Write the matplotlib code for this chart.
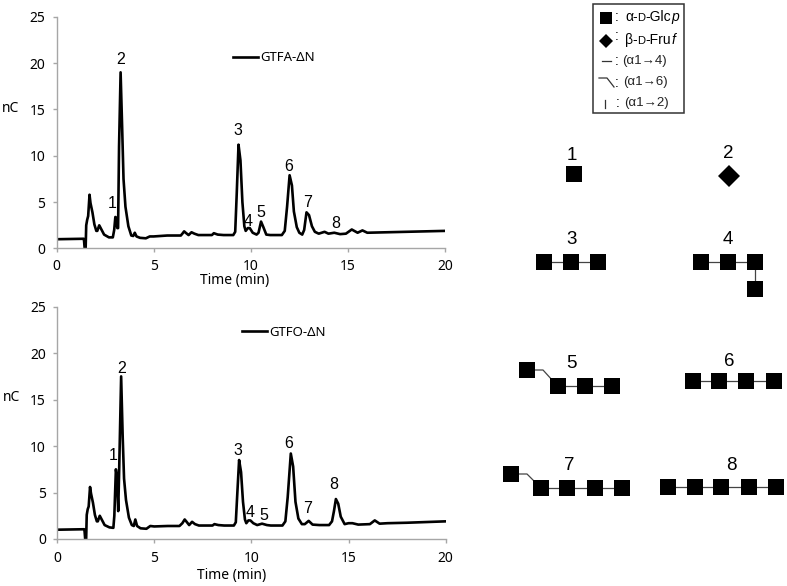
import matplotlib
matplotlib.use("Agg")
import matplotlib.pyplot as plt

plt.rcParams["font.family"] = ["Noto Sans", "DejaVu Sans"]

# chromatogram traces
time_a = [0, 1.4, 1.42, 1.45, 1.5, 1.53, 1.58, 1.63, 1.7, 1.75, 1.85, 1.95, 2.05, 2.1, 2.2, 2.3, 2.45, 2.7, 2.9,
          2.97, 3.03, 3.08, 3.13, 3.17, 3.22, 3.3, 3.38, 3.45, 3.55, 3.7, 3.85, 3.95, 4.03, 4.12, 4.3, 4.6, 4.8,
          5.0, 5.7, 6.4, 6.5, 6.57, 6.65, 6.8, 6.95, 7.1, 7.3, 8.0, 8.1, 8.3, 8.6, 9.1, 9.2, 9.28, 9.37, 9.47,
          9.57, 9.67, 9.74, 9.85, 9.95, 10.1, 10.3, 10.4, 10.53, 10.65, 10.8, 11, 11.6, 11.75, 11.87, 12.0, 12.12,
          12.22, 12.37, 12.5, 12.65, 12.75, 12.87, 13, 13.15, 13.3, 13.5, 13.8, 14.0, 14.3, 14.6, 14.9, 15.2, 15.5,
          15.75, 16, 17, 18, 20]
signal_a = [1.0, 1.05, 0.8, 0, 0, 2.5, 3.1, 3.5, 5.8, 4.9, 3.9, 2.6, 1.9, 1.9, 2.5, 2.1, 1.5, 1.2, 1.2,
            2.0, 3.4, 3.3, 2.2, 2.2, 11, 19, 13, 7.5, 4.5, 2.4, 1.4, 1.35, 1.7, 1.3, 1.15, 1.1, 1.3,
            1.3, 1.4, 1.4, 1.65, 1.85, 1.7, 1.45, 1.75, 1.6, 1.45, 1.45, 1.65, 1.5, 1.45, 1.45, 1.8, 6, 11.2, 9.5,
            5, 2.4, 1.9, 2.2, 2.2, 1.7, 1.5, 1.7, 2.9, 2.3, 1.5, 1.45, 1.45, 1.9, 4.5, 7.9, 6.8,
            4, 2.3, 1.7, 1.5, 2.0, 3.9, 3.6, 2.4, 1.8, 1.6, 1.8, 1.6, 1.7, 1.55, 1.6, 2.05, 1.7,
            1.95, 1.7, 1.75, 1.8, 1.9]

time_o = [0, 1.4, 1.42, 1.45, 1.5, 1.53, 1.58, 1.63, 1.7, 1.75, 1.85, 1.95, 2.05, 2.1, 2.2, 2.3, 2.45, 2.7, 2.9,
          2.95, 3.03, 3.08, 3.15, 3.2, 3.3, 3.38, 3.45, 3.55, 3.7, 3.85, 3.95, 4.03, 4.12, 4.3, 4.6, 4.8,
          5.0, 5.7, 6.3, 6.45, 6.57, 6.65, 6.8, 6.95, 7.1, 7.3, 8.0, 8.1, 8.3, 8.6, 9.1, 9.2, 9.28, 9.37, 9.47,
          9.57, 9.67, 9.74, 9.85, 9.95, 10.1, 10.3, 10.55, 10.8, 11, 11.6, 11.75, 11.87, 12.03, 12.15,
          12.27, 12.42, 12.6, 12.75, 12.95, 13.15, 13.5, 14.0, 14.15, 14.25, 14.35, 14.47, 14.6, 14.8, 15.0, 15.2,
          15.5, 16.1, 16.35, 16.6, 17, 18, 20]
signal_o = [1.0, 1.05, 0.8, 0, 0, 2.6, 3.2, 3.5, 5.6, 4.9, 3.9, 2.6, 1.9, 1.9, 2.5, 2.1, 1.5, 1.25, 1.2,
            2.5, 7.5, 6.8, 3.0, 7.5, 17.5, 11, 6.5, 4.2, 2.3, 1.5, 1.4, 2.1, 1.4, 1.15, 1.1, 1.4,
            1.35, 1.4, 1.4, 1.7, 2.1, 1.9, 1.5, 1.85, 1.6, 1.45, 1.45, 1.6, 1.5, 1.45, 1.45, 1.8, 5, 8.5, 7.2,
            4, 2.1, 1.7, 2.0, 2.0, 1.7, 1.5, 1.65, 1.5, 1.45, 1.45, 1.9, 4.5, 9.2, 7.8,
            4, 2.2, 1.6, 1.6, 1.95, 1.55, 1.5, 1.5, 1.9, 3.0, 4.3, 3.8, 2.4, 1.6, 1.7, 1.7,
            1.55, 1.6, 2.0, 1.65, 1.7, 1.75, 1.9]

peak_labels = ["1", "2", "3", "4", "5", "6", "7", "8"]
peak_x_a = [2.85, 3.3, 9.33, 9.85, 10.5, 11.95, 12.93, 14.37]
peak_y_a = [4.9, 20.4, 12.7, 2.9, 3.9, 8.8, 5.0, 2.75]
peak_x_o = [2.88, 3.3, 9.31, 9.93, 10.65, 11.93, 12.91, 14.25]
peak_y_o = [9.0, 18.4, 9.5, 2.8, 2.5, 10.3, 3.3, 5.9]

x_ticks = [0, 5, 10, 15, 20]
y_ticks = [0, 5, 10, 15, 20, 25]

W, H = 787, 586
fig = plt.figure(figsize=(W / 100, H / 100), dpi=100)


def px_axes(x0, x1, ytop, ybot):
    return fig.add_axes([x0 / W, 1 - ybot / H, (x1 - x0) / W, (ybot - ytop) / H])


def chromatogram(ax, t, s, name, px, py, leg_xy, ylab_xy, xlab_xy, pad):
    ax.plot(t, s, color="black", lw=1.9, label=name, solid_joinstyle="round")
    ax.set_xlim(0, 20)
    ax.set_ylim(0, 25)
    ax.set_xticks(x_ticks)
    ax.set_yticks(y_ticks)
    for side in ["top", "right"]:
        ax.spines[side].set_visible(False)
    for side in ["left", "bottom"]:
        ax.spines[side].set_color("#a6a6a6")
        ax.spines[side].set_linewidth(1.0)
    ax.tick_params(axis="x", length=3, width=1, color="#a6a6a6", labelsize=10, pad=pad)
    ax.tick_params(axis="y", length=3, width=1, color="#a6a6a6", labelsize=10, pad=5)
    ax.set_ylabel("nC", rotation=0, fontsize=10, va="center", ha="center")
    ax.yaxis.set_label_coords(*ylab_xy)
    ax.set_xlabel("Time (min)", fontsize=10, va="center", ha="center")
    ax.xaxis.set_label_coords(*xlab_xy)
    for lab, x, y in zip(peak_labels, px, py):
        ax.text(x, y, lab, ha="center", va="center", fontsize=11.5, family="Liberation Sans")
    ax.legend(loc="center left", bbox_to_anchor=leg_xy, frameon=False, borderaxespad=0, borderpad=0,
              handlelength=1.9, handletextpad=0.2, prop={"size": 9.5})


ax1 = px_axes(56.5, 445, 16.7, 248.5)
chromatogram(ax1, time_a, signal_a, "GTFA-ΔN", peak_x_a, peak_y_a, (0.454, 0.822),
             (-0.117, 0.606), (0.459, -0.14), 4.5)
ax2 = px_axes(57, 445.7, 306.7, 539)
chromatogram(ax2, time_o, signal_o, "GTFO-ΔN", peak_x_o, peak_y_o, (0.476, 0.891),
             (-0.117, 0.607), (0.45, -0.159), 6)

# overlay in pixel coordinates for the schematic on the right
ov = fig.add_axes([0, 0, 1, 1])
ov.set_xlim(0, W)
ov.set_ylim(H, 0)
ov.axis("off")
ov.patch.set_alpha(0)

# residues of each structure: label position, then square centres
structures = [
    ("1", (572, 155), [(574, 174)]),
    ("3", (572, 240), [(544, 262), (571, 262), (598, 262)]),
    ("4", (728, 240), [(701, 262), (728, 262), (755, 262), (755, 289)]),
    ("5", (571, 364), [(557.5, 385.5), (585, 385.5), (612, 385.5)]),
    ("6", (729, 361), [(693, 381), (719, 381), (746, 381), (774, 381)]),
    ("7", (569, 466), [(541, 488), (567, 488), (595, 488), (622, 488)]),
    ("8", (731, 466), [(668, 487), (695, 487), (721, 487), (749, 487), (776, 487)]),
]
for lab, (lx, ly), pts in structures:
    ov.text(lx, ly, lab, ha="center", va="center", fontsize=13.5, family="Liberation Sans")
    xs = [p[0] for p in pts]
    ys = [p[1] for p in pts]
    ov.plot(xs, ys, color="#444444", lw=0.9, zorder=1)
    ov.plot(xs, ys, "s", color="black", ms=11, mew=0, ls="none", zorder=2)

# (a1-6) branches of 5 and 7
branches = [[(527, 370), (543, 370), (553, 381)], [(511, 474), (527, 474), (537, 484)]]
for br in branches:
    ov.plot([p[0] for p in br], [p[1] for p in br], color="#444444", lw=0.9, zorder=1)
    ov.plot(br[0][0], br[0][1], "s", color="black", ms=11, mew=0, zorder=2)

ov.text(728, 154, "2", ha="center", va="center", fontsize=13.5, family="Liberation Sans")
ov.plot(728.5, 176, "D", color="black", ms=11, mew=0)

# key box
ov.add_patch(plt.Rectangle((593, 4), 91, 108.5, fill=False, ec="#333333", lw=1.1))
ov.plot(606, 18, "s", color="black", ms=8.5, mew=0)
ov.plot(606, 41, "D", color="black", ms=7.5, mew=0)
ov.plot([602, 611], [61, 61], color="#333333", lw=0.9)
ov.plot([599, 607, 614], [78, 78, 87], color="#333333", lw=0.9)
ov.plot([605, 605], [100, 108], color="#333333", lw=0.9)


def chain(x, y, parts):
    # place text pieces one after the other, for the small capital D and the italics
    r = fig.canvas.get_renderer()
    for s, size, style in parts:
        t = ov.text(x, y, s, fontsize=size, style=style, family="Liberation Sans", ha="left", va="baseline")
        x = ov.transData.inverted().transform(t.get_window_extent(r).p1)[0]


chain(625, 21, [("α-", 10, "normal"), ("D", 8, "normal"), ("-Glc", 10, "normal"), ("p", 10, "italic")])
chain(625, 44, [("β-", 10, "normal"), ("D", 8, "normal"), ("-Fru", 10, "normal"), ("f", 10, "italic")])
key_colons = [(617, 17), (617, 36), (617, 61), (617, 83), (618, 103)]
for cx, cy in key_colons:
    ov.text(cx, cy, ":", ha="center", va="center", fontsize=10, family="Liberation Sans")
key_links = [("(α1→4)", 622, 61), ("(α1→6)", 623, 82), ("(α1→2)", 624, 103)]
for s, kx, ky in key_links:
    ov.text(kx, ky, s, ha="left", va="center", fontsize=9.5, family=["Liberation Sans", "DejaVu Sans"], color="#222222")

fig.savefig("out.png", dpi=100)
